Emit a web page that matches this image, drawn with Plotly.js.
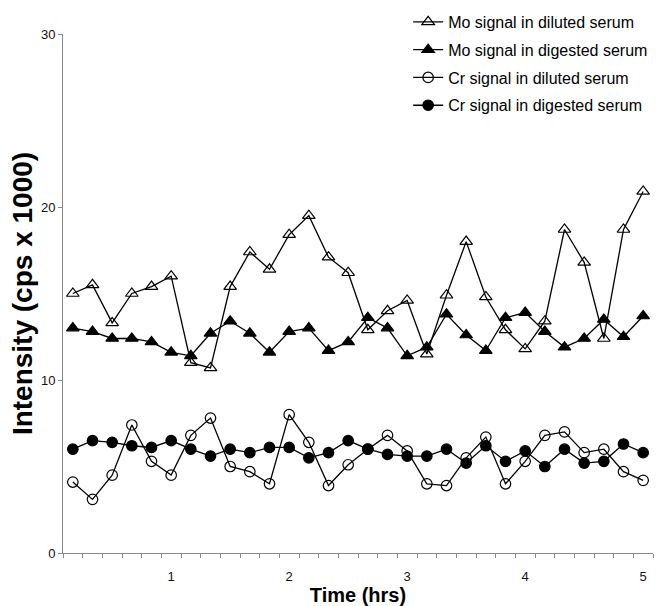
<!DOCTYPE html>
<html>
<head>
<meta charset="utf-8">
<script src="https://cdn.plot.ly/plotly-3.0.1.min.js"></script>
<style>html,body{margin:0;padding:0;background:#fff;}#chart{width:658px;height:606px;}</style>
</head>
<body>
<div id="chart"></div>
<script>
// Time points (hours), one every 10 minutes
var timeHrs = [1/6,2/6,3/6,4/6,5/6,1,7/6,8/6,9/6,10/6,11/6,2,13/6,14/6,15/6,16/6,17/6,3,19/6,20/6,21/6,22/6,23/6,4,25/6,26/6,27/6,28/6,29/6,5];

var moDiluted   = [15.0,15.5,13.3,15.0,15.4,16.0,11.0,10.7,15.4,17.4,16.4,18.4,19.5,17.1,16.2,12.9,14.0,14.6,11.5,14.9,18.0,14.8,12.9,11.8,13.4,18.7,16.8,12.4,18.7,20.9];
var moDigested  = [13.0,12.8,12.4,12.4,12.2,11.6,11.4,12.7,13.4,12.7,11.6,12.8,13.0,11.7,12.2,13.6,13.0,11.4,11.9,13.8,12.6,11.7,13.6,13.9,12.8,11.9,12.4,13.5,12.5,13.7];
var crDiluted   = [4.1,3.1,4.5,7.4,5.3,4.5,6.8,7.8,5.0,4.7,4.0,8.0,6.4,3.9,5.1,6.0,6.8,5.9,4.0,3.9,5.5,6.7,4.0,5.3,6.8,7.0,5.8,6.0,4.7,4.2];
var crDigested  = [6.0,6.5,6.4,6.2,6.1,6.5,6.0,5.6,6.0,5.8,6.1,6.1,5.5,5.8,6.5,6.0,5.7,5.6,5.6,6.0,5.2,6.2,5.3,5.9,5.0,6.0,5.2,5.3,6.3,5.8];

var seriesNames = ["Mo signal in diluted serum","Mo signal in digested serum","Cr signal in diluted serum","Cr signal in digested serum"];
var xTickVals = [1,2,3,4,5];
var xTickText = ["1","2","3","4","5"];
var yTickVals = [0,10,20,30];

var FONT = "Arial, 'Liberation Sans', sans-serif";
function tr(y, name, sym, size, grp){
  return {
    x: timeHrs, y: y, name: name, type: "scatter", mode: "lines+markers",
    legendgroup: grp,
    line: {color: "#000", width: 1.3},
    marker: {symbol: sym, size: size, color: "#000", line: {color: "#000", width: 1.2}},
    cliponaxis: false
  };
}
var data = [
  tr(moDiluted, seriesNames[0], "triangle-up-open", 11, "a"),
  tr(moDigested, seriesNames[1], "triangle-up", 11, "b"),
  tr(crDiluted, seriesNames[2], "circle-open", 10.5, "c"),
  tr(crDigested, seriesNames[3], "circle", 10.5, "d")
];

var layout = {
  width: 658, height: 606,
  margin: {l: 63, r: 5, t: 32, b: 53, pad: 0},
  paper_bgcolor: "#fff", plot_bgcolor: "#fff",
  font: {family: FONT, color: "#000"},
  showlegend: true,
  legend: {
    x: 0.585, y: 1.056, xanchor: "left", yanchor: "top",
    bgcolor: "rgba(0,0,0,0)", borderwidth: 0,
    font: {family: FONT, size: 16, color: "#000"},
    traceorder: "grouped", tracegroupgap: 4
  },
  xaxis: {
    range: [1/12, 5 + 1/12],
    tickmode: "array", tickvals: xTickVals, ticktext: xTickText,
    ticks: "", ticklabelstandoff: 11,
    minor: {tick0: 1/12, dtick: 1/6, ticks: "outside", ticklen: 4, tickcolor: "#888", tickwidth: 1, showgrid: false},
    showline: true, linecolor: "#888", linewidth: 1,
    showgrid: false, zeroline: false,
    tickfont: {family: FONT, size: 13, color: "#111"},
    title: {text: "Time (hrs)", font: {family: FONT, size: 20, color: "#000", weight: "bold"}, standoff: 0},
    automargin: false
  },
  yaxis: {
    range: [0, 30],
    tickmode: "array", tickvals: yTickVals,
    ticks: "outside", ticklen: 4, tickcolor: "#888", tickwidth: 1,
    showline: true, linecolor: "#888", linewidth: 1,
    showgrid: false, zeroline: false,
    tickfont: {family: FONT, size: 13, color: "#111"},
    title: {text: "Intensity (cps x 1000)", font: {family: FONT, size: 28, color: "#000", weight: "bold"}, standoff: 0},
    automargin: false
  }
};
Plotly.newPlot("chart", data, layout, {displayModeBar: false, staticPlot: true});
</script>
</body>
</html>
